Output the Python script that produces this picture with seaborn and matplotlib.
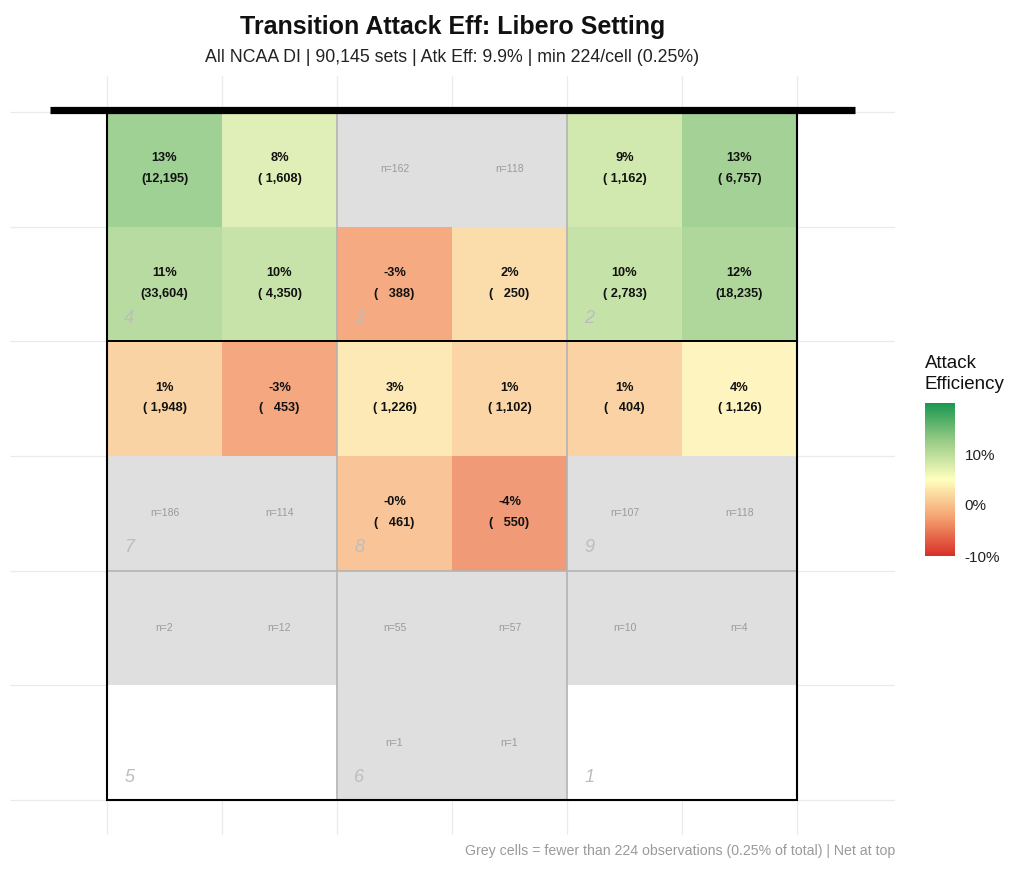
import numpy as np
import pandas as pd
import matplotlib
matplotlib.use("Agg")
import matplotlib.pyplot as plt
from matplotlib.colors import LinearSegmentedColormap, ListedColormap, Normalize, to_rgb
from matplotlib.cm import ScalarMappable
from matplotlib.patches import Rectangle
import seaborn as sns

# ---------------- data ----------------
columns = ["c1", "c2", "c3", "c4", "c5", "c6"]
rows = ["r1", "r2", "r3", "r4", "r5", "r6"]   # r1 = net side

counts_r1 = [12195, 1608, 162, 118, 1162, 6757]
counts_r2 = [33604, 4350, 388, 250, 2783, 18235]
counts_r3 = [1948, 453, 1226, 1102, 404, 1126]
counts_r4 = [186, 114, 461, 550, 107, 118]
counts_r5 = [2, 12, 55, 57, 10, 4]
counts_r6 = [0, 0, 1, 1, 0, 0]

eff_r1 = [0.131, 0.078, np.nan, np.nan, 0.089, 0.128]
eff_r2 = [0.112, 0.097, -0.028, 0.018, 0.100, 0.118]
eff_r3 = [0.010, -0.030, 0.030, 0.011, 0.008, 0.040]
eff_r4 = [np.nan, np.nan, -0.003, -0.041, np.nan, np.nan]
eff_r5 = [np.nan] * 6
eff_r6 = [np.nan] * 6

zone_labels = ["4", "3", "2", "7", "8", "9", "5", "6", "1"]
min_count = 224
title = "Transition Attack Eff: Libero Setting"
subtitle = "All NCAA DI | 90,145 sets | Atk Eff: 9.9% | min 224/cell (0.25%)"
caption = "Grey cells = fewer than 224 observations (0.25% of total) | Net at top"
legend_title = "Attack\nEfficiency"
cbar_ticks = [-0.10, 0.0, 0.10]
cbar_labels = ["-10%", "0%", "10%"]

counts = pd.DataFrame([counts_r1, counts_r2, counts_r3, counts_r4, counts_r5, counts_r6],
                      index=rows, columns=columns)
eff = pd.DataFrame([eff_r1, eff_r2, eff_r3, eff_r4, eff_r5, eff_r6],
                   index=rows, columns=columns)

# status: 0 = no data (white), 1 = too few (grey)
status = (counts > 0).astype(float)
low_mask = counts >= min_count          # hide in status layer when colored

# ---------------- style ----------------
sns.set_theme(style="white")
plt.rcParams["font.family"] = ["Liberation Sans", "DejaVu Sans"]

node_cols = ["#d73027", "#f5a06f", "#ffffbf", "#99cc86", "#1a9850"]
cmap_full = LinearSegmentedColormap.from_list("eff", node_cols)
alpha = 0.85
blended = [tuple(alpha * np.array(to_rgb(c)) + (1 - alpha)) for c in node_cols]
cmap_cells = LinearSegmentedColormap.from_list("eff_cells", blended)
vmin, vmax = -0.10, 0.20

fig = plt.figure(figsize=(10.24, 8.75), dpi=100)
ax = fig.add_axes([10 / 1024, 1 - 835 / 875, 885 / 1024, 759 / 875])
cax = fig.add_axes([925 / 1024, 1 - 556 / 875, 30 / 1024, 153 / 875])

# status layer (white / grey)
sns.heatmap(status, mask=low_mask, cmap=ListedColormap(["#ffffff", "#dfdfdf"]),
            vmin=0, vmax=1, cbar=False, ax=ax, linewidths=0)
# efficiency layer
sns.heatmap(eff, mask=~low_mask, cmap=cmap_cells, vmin=vmin, vmax=vmax,
            cbar=False, ax=ax, linewidths=0)

# limits & grid
ax.set_xlim(-0.8435, 6.852)
ax.set_ylim(6.305, -0.314)
ax.set_xticks(range(7))
ax.set_yticks(range(7))
ax.set_xticklabels([])
ax.set_yticklabels([])
ax.tick_params(length=0)
ax.set_axisbelow(True)
ax.grid(True, color="#ebebeb", lw=0.9)
for s in ax.spines.values():
    s.set_visible(False)
ax.set_xlabel("")
ax.set_ylabel("")

# cell labels
nrow, ncol = counts.shape
for i in range(nrow):
    for j in range(ncol):
        n = counts.iloc[i, j]
        e = eff.iloc[i, j]
        if n >= min_count:
            ax.text(j + 0.5, i + 0.5 - 0.095, f"{e * 100:.0f}%", ha="center", va="center",
                    fontsize=9.2, fontweight="bold", color="#111111")
            ax.text(j + 0.5, i + 0.5 + 0.085, f"({n:>6,})", ha="center", va="center",
                    fontsize=9.2, fontweight="bold", color="#111111")
        elif n > 0:
            ax.text(j + 0.5, i + 0.5, f"n={n}", ha="center", va="center",
                    fontsize=7.5, color="#9a9a9a")

# zone lines
for xv in (2, 4):
    ax.plot([xv, xv], [0, 6], color="#b3b3b3", lw=1.2, zorder=3)
ax.plot([0, 6], [4, 4], color="#b3b3b3", lw=1.2, zorder=3)
ax.plot([0, 6], [2, 2], color="black", lw=1.4, zorder=4)
ax.add_patch(Rectangle((0, 0), 6, 6, fill=False, ec="black", lw=1.5, zorder=5))
# net
ax.plot([-0.5, 6.5], [-0.015, -0.015], color="black", lw=5.2, solid_capstyle="butt", zorder=6)

# zone numbers
k = 0
for zr in range(3):
    for zc in range(3):
        ax.text(zc * 2 + 0.15, zr * 2 + 1.8, zone_labels[k], ha="left", va="center",
                fontsize=13, fontstyle="italic", color="#bdbdbd", zorder=4)
        k += 1

# colorbar
cb = fig.colorbar(ScalarMappable(norm=Normalize(vmin, vmax), cmap=cmap_full), cax=cax)
cb.outline.set_visible(False)
cb.set_ticks(cbar_ticks)
cb.set_ticklabels(cbar_labels)
cax.tick_params(direction="in", color="white", length=5, width=0.8,
                left=True, right=True, labelleft=False, labelright=True,
                labelsize=11, pad=7, labelcolor="#222222")
fig.text(925 / 1024, 1 - 374 / 875, legend_title, ha="left", va="center",
         fontsize=13.5, color="#111111", linespacing=1.25)

# titles
cx = (10 + 895) / 2 / 1024
fig.text(cx, 1 - 27 / 875, title, ha="center", va="center", fontsize=18,
         fontweight="bold", color="#111111")
fig.text(cx, 1 - 57 / 875, subtitle, ha="center", va="center", fontsize=12.8,
         color="#222222")
fig.text(895 / 1024, 1 - 851 / 875, caption, ha="right", va="center", fontsize=10.2,
         color="#9a9a9a")

fig.savefig("out.png", dpi=100, facecolor="white")
